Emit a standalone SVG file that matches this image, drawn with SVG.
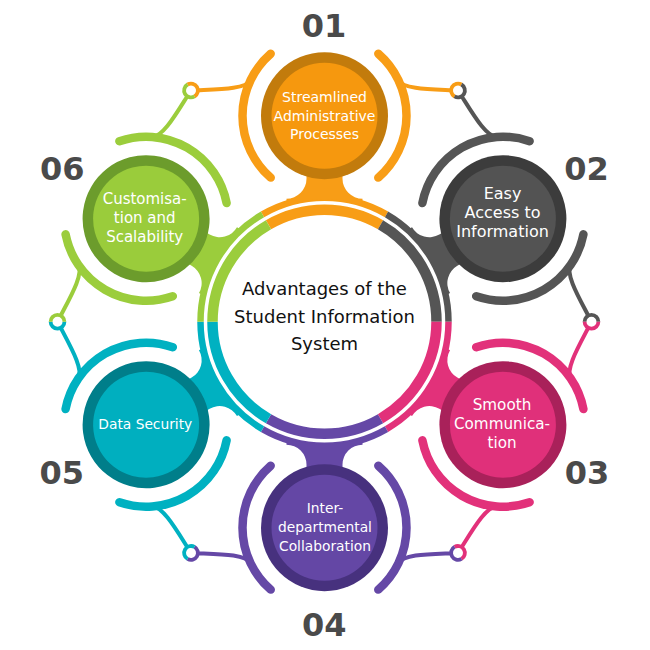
<svg xmlns="http://www.w3.org/2000/svg" xmlns:xlink="http://www.w3.org/1999/xlink" width="650" height="650" viewBox="0 0 650 650">
<style>
.arc{fill:none;stroke-width:8.5;stroke-linecap:round}
.con{fill:none;stroke-width:4;stroke-linecap:round}
.ring{fill:none;stroke-width:3.8}
.band{fill:none;stroke-width:10.5}
.stripe{fill:none;stroke-width:6.5}
.num{font-family:"DejaVu Sans",sans-serif;font-weight:bold;font-size:32px;fill:#4a4a4a;text-anchor:middle}
.lbl{font-family:"DejaVu Sans",sans-serif;fill:#ffffff;text-anchor:middle}
.ctr{font-family:"DejaVu Sans",sans-serif;font-size:18px;fill:#111111;text-anchor:middle}
</style>
<defs>
<path id="cL" d="M -133.5,-231.2 C -110,-232.5 -79,-231.5 -73.7,-241.9"/>
<path id="cR" d="M 133.5,-231.2 C 110,-232.5 79,-231.5 73.7,-241.9"/>
<path id="hL" d="M -136.95,-237.18 A 6.9 6.9 0 0 1 -130.05,-225.22"/>
<path id="hR" d="M 136.95,-237.18 A 6.9 6.9 0 0 0 130.05,-225.22"/>
<path id="arcs" d="M -53.8,-267.89 A 82 82 0 0 0 -53.8,-144.11 M 53.8,-267.89 A 82 82 0 0 1 53.8,-144.11"/>
<path id="neck" d="M -18,-150 L -18,-143 A 20 20 0 0 1 -38,-123 L -38,-116.5 A 122.5 122.5 0 0 1 38,-116.5 L 38,-123 A 20 20 0 0 1 18,-143 L 18,-150 Z"/>
<path id="band" d="M -56,-96.995 A 112 112 0 0 1 56,-96.995"/>
<path id="stripe" d="M -62,-107.387 A 124 124 0 0 1 62,-107.387"/>
</defs>
<rect width="650" height="650" fill="#ffffff"/>
<g id="connectors" transform="translate(324.5 321.7)">
<use href="#cL" class="con" stroke="#F89D16"/><use href="#cR" class="con" stroke="#F89D16"/>
<use href="#cL" class="con" stroke="#555555" transform="rotate(60)"/><use href="#cR" class="con" stroke="#555555" transform="rotate(60)"/>
<use href="#cL" class="con" stroke="#E2317A" transform="rotate(120)"/><use href="#cR" class="con" stroke="#E2317A" transform="rotate(120)"/>
<use href="#cL" class="con" stroke="#6548A6" transform="rotate(180)"/><use href="#cR" class="con" stroke="#6548A6" transform="rotate(180)"/>
<use href="#cL" class="con" stroke="#00B1C1" transform="rotate(240)"/><use href="#cR" class="con" stroke="#00B1C1" transform="rotate(240)"/>
<use href="#cL" class="con" stroke="#9BCD3C" transform="rotate(300)"/><use href="#cR" class="con" stroke="#9BCD3C" transform="rotate(300)"/>
<g fill="#ffffff">
<circle cx="-133.5" cy="-231.2" r="6.9"/>
<circle cx="-133.5" cy="-231.2" r="6.9" transform="rotate(60)"/>
<circle cx="-133.5" cy="-231.2" r="6.9" transform="rotate(120)"/>
<circle cx="-133.5" cy="-231.2" r="6.9" transform="rotate(180)"/>
<circle cx="-133.5" cy="-231.2" r="6.9" transform="rotate(240)"/>
<circle cx="-133.5" cy="-231.2" r="6.9" transform="rotate(300)"/>
</g>
<use href="#hL" class="ring" stroke="#F89D16"/><use href="#hR" class="ring" stroke="#F89D16"/>
<use href="#hL" class="ring" stroke="#555555" transform="rotate(60)"/><use href="#hR" class="ring" stroke="#555555" transform="rotate(60)"/>
<use href="#hL" class="ring" stroke="#E2317A" transform="rotate(120)"/><use href="#hR" class="ring" stroke="#E2317A" transform="rotate(120)"/>
<use href="#hL" class="ring" stroke="#6548A6" transform="rotate(180)"/><use href="#hR" class="ring" stroke="#6548A6" transform="rotate(180)"/>
<use href="#hL" class="ring" stroke="#00B1C1" transform="rotate(240)"/><use href="#hR" class="ring" stroke="#00B1C1" transform="rotate(240)"/>
<use href="#hL" class="ring" stroke="#9BCD3C" transform="rotate(300)"/><use href="#hR" class="ring" stroke="#9BCD3C" transform="rotate(300)"/>
</g>
<g id="center">
<g transform="translate(324.5 321.7)">
<use href="#band" class="band" stroke="#F89D16"/><use href="#stripe" class="stripe" stroke="#F89D16"/>
<use href="#band" class="band" stroke="#555555" transform="rotate(60)"/><use href="#stripe" class="stripe" stroke="#555555" transform="rotate(60)"/>
<use href="#band" class="band" stroke="#E2317A" transform="rotate(120)"/><use href="#stripe" class="stripe" stroke="#E2317A" transform="rotate(120)"/>
<use href="#band" class="band" stroke="#6548A6" transform="rotate(180)"/><use href="#stripe" class="stripe" stroke="#6548A6" transform="rotate(180)"/>
<use href="#band" class="band" stroke="#00B1C1" transform="rotate(240)"/><use href="#stripe" class="stripe" stroke="#00B1C1" transform="rotate(240)"/>
<use href="#band" class="band" stroke="#9BCD3C" transform="rotate(300)"/><use href="#stripe" class="stripe" stroke="#9BCD3C" transform="rotate(300)"/>
</g>
<text class="ctr" x="324.5" y="295">Advantages of the</text>
<text class="ctr" x="324.5" y="322.7">Student Information</text>
<text class="ctr" x="324.5" y="350">System</text>
</g>
<g id="node1">
<g transform="translate(324.5 321.7)">
<use href="#neck" fill="#F89D16"/><use href="#arcs" class="arc" stroke="#F89D16"/>
<circle cx="0" cy="-206" r="63.5" fill="#C27B0C"/><circle cx="0" cy="-206" r="53" fill="#F6980E"/>
</g>
<text class="lbl" font-size="14" x="324.5" y="102">Streamlined</text>
<text class="lbl" font-size="14" x="324.5" y="120.7">Administrative</text>
<text class="lbl" font-size="14" x="324.5" y="139.3">Processes</text>
<text class="num" x="324" y="37.3">01</text>
</g>
<g id="node2">
<g transform="translate(324.5 321.7) rotate(60)">
<use href="#neck" fill="#555555"/><use href="#arcs" class="arc" stroke="#555555"/>
<circle cx="0" cy="-206" r="63.5" fill="#3C3C3C"/><circle cx="0" cy="-206" r="53" fill="#535353"/>
</g>
<text class="lbl" font-size="16" x="502.5" y="199.3">Easy</text>
<text class="lbl" font-size="16" x="502.5" y="218.3">Access to</text>
<text class="lbl" font-size="16" x="502.5" y="236.7">Information</text>
<text class="num" x="586.5" y="180">02</text>
</g>
<g id="node3">
<g transform="translate(324.5 321.7) rotate(120)">
<use href="#neck" fill="#E2317A"/><use href="#arcs" class="arc" stroke="#E2317A"/>
<circle cx="0" cy="-206" r="63.5" fill="#A9215A"/><circle cx="0" cy="-206" r="53" fill="#E0307A"/>
</g>
<text class="lbl" font-size="15.2" x="502" y="410">Smooth</text>
<text class="lbl" font-size="15.2" x="502" y="429">Communica-</text>
<text class="lbl" font-size="15.2" x="502" y="447.7">tion</text>
<text class="num" x="587" y="484">03</text>
</g>
<g id="node4">
<g transform="translate(324.5 321.7) rotate(180)">
<use href="#neck" fill="#6548A6"/><use href="#arcs" class="arc" stroke="#6548A6"/>
<circle cx="0" cy="-206" r="63.5" fill="#47317E"/><circle cx="0" cy="-206" r="53" fill="#6447A5"/>
</g>
<text class="lbl" font-size="13.8" x="325" y="513.3">Inter-</text>
<text class="lbl" font-size="13.8" x="325" y="531.7">departmental</text>
<text class="lbl" font-size="13.8" x="325" y="550.7">Collaboration</text>
<text class="num" x="324.3" y="636">04</text>
</g>
<g id="node5">
<g transform="translate(324.5 321.7) rotate(240)">
<use href="#neck" fill="#00B1C1"/><use href="#arcs" class="arc" stroke="#00B1C1"/>
<circle cx="0" cy="-206" r="63.5" fill="#007E8A"/><circle cx="0" cy="-206" r="53" fill="#00AFBF"/>
</g>
<text class="lbl" font-size="13.8" x="145.3" y="429.3">Data Security</text>
<text class="num" x="61.7" y="484">05</text>
</g>
<g id="node6">
<g transform="translate(324.5 321.7) rotate(300)">
<use href="#neck" fill="#9BCD3C"/><use href="#arcs" class="arc" stroke="#9BCD3C"/>
<circle cx="0" cy="-206" r="63.5" fill="#6C9C2C"/><circle cx="0" cy="-206" r="53" fill="#9ACC3B"/>
</g>
<text class="lbl" font-size="15" x="144.7" y="204">Customisa-</text>
<text class="lbl" font-size="15" x="144.7" y="222.7">tion and</text>
<text class="lbl" font-size="15" x="144.7" y="241.7">Scalability</text>
<text class="num" x="62.3" y="180">06</text>
</g>
</svg>
